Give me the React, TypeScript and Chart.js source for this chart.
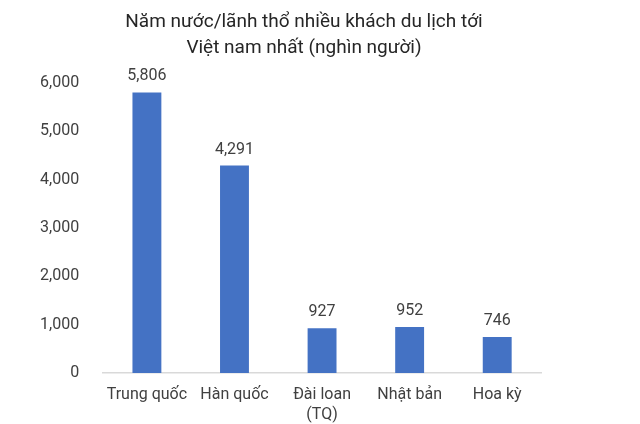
import React, { useEffect, useRef } from 'react';
import Chart from 'chart.js/auto';

const categories: (string | string[])[] = ['Trung quốc', 'Hàn quốc', ['Đài loan', '(TQ)'], 'Nhật bản', 'Hoa kỳ'];
const visitors = [5806, 4291, 927, 952, 746];
const titleLines = ['Năm nước/lãnh thổ nhiều khách du lịch tới', 'Việt nam nhất (nghìn người)'];

const FONT = 'Roboto, "Noto Sans", sans-serif';

// value above each bar + the two-line title (centred like the original, not over the plot)
const valueLabels = {
  id: 'valueLabels',
  afterDatasetsDraw(chart: Chart) {
    const { ctx } = chart;
    const meta = chart.getDatasetMeta(0);
    ctx.save();
    ctx.font = `16px ${FONT}`;
    ctx.fillStyle = '#404040';
    ctx.textAlign = 'center';
    ctx.textBaseline = 'bottom';
    meta.data.forEach((bar: any, i: number) => {
      ctx.fillText(visitors[i].toLocaleString('en-US'), bar.x, bar.y - 8);
    });

    ctx.font = `19px ${FONT}`;
    ctx.fillStyle = '#262626';
    ctx.textBaseline = 'middle';
    titleLines.forEach((line, i) => {
      ctx.fillText(line, 304, 22 + i * 26);
    });
    ctx.restore();
  },
};

const App: React.FC = () => {
  const canvasRef = useRef<HTMLCanvasElement>(null);
  const chartRef = useRef<Chart | null>(null);

  useEffect(() => {
    if (!canvasRef.current) return;
    if (chartRef.current) chartRef.current.destroy();

    chartRef.current = new Chart(canvasRef.current, {
      type: 'bar',
      data: {
        labels: categories,
        datasets: [
          {
            data: visitors,
            backgroundColor: '#4472C4',
            categoryPercentage: 1,
            barPercentage: 0.33,
          },
        ],
      },
      options: {
        animation: false,
        responsive: false,
        layout: { padding: { top: 83, left: 24, right: 99, bottom: -5 } },
        plugins: {
          legend: { display: false },
          tooltip: { enabled: false },
          title: { display: false },
        },
        scales: {
          x: {
            grid: { display: false },
            border: { display: true, color: '#d9d9d9', width: 1.5 },
            ticks: {
              color: '#404040',
              font: { family: FONT, size: 16, lineHeight: 1.25 },
              padding: 4,
              maxRotation: 0,
              autoSkip: false,
            },
          },
          y: {
            min: 0,
            max: 6000,
            grid: { display: false },
            border: { display: false },
            ticks: {
              stepSize: 1000,
              color: '#404040',
              padding: 16,
              font: { family: FONT, size: 16 },
              callback: (v) => Number(v).toLocaleString('en-US'),
            },
          },
        },
      },
      plugins: [valueLabels],
    });

    return () => {
      if (chartRef.current) {
        chartRef.current.destroy();
        chartRef.current = null;
      }
    };
  }, []);

  return (
    <div style={{ width: 640, height: 424, background: '#fff' }}>
      <canvas ref={canvasRef} width={640} height={424} style={{ display: 'block' }} />
    </div>
  );
};

export default function AppRoot() {
  React.useEffect(() => {
    document.body.style.margin = '0';
  }, []);
  return <App />;
}
